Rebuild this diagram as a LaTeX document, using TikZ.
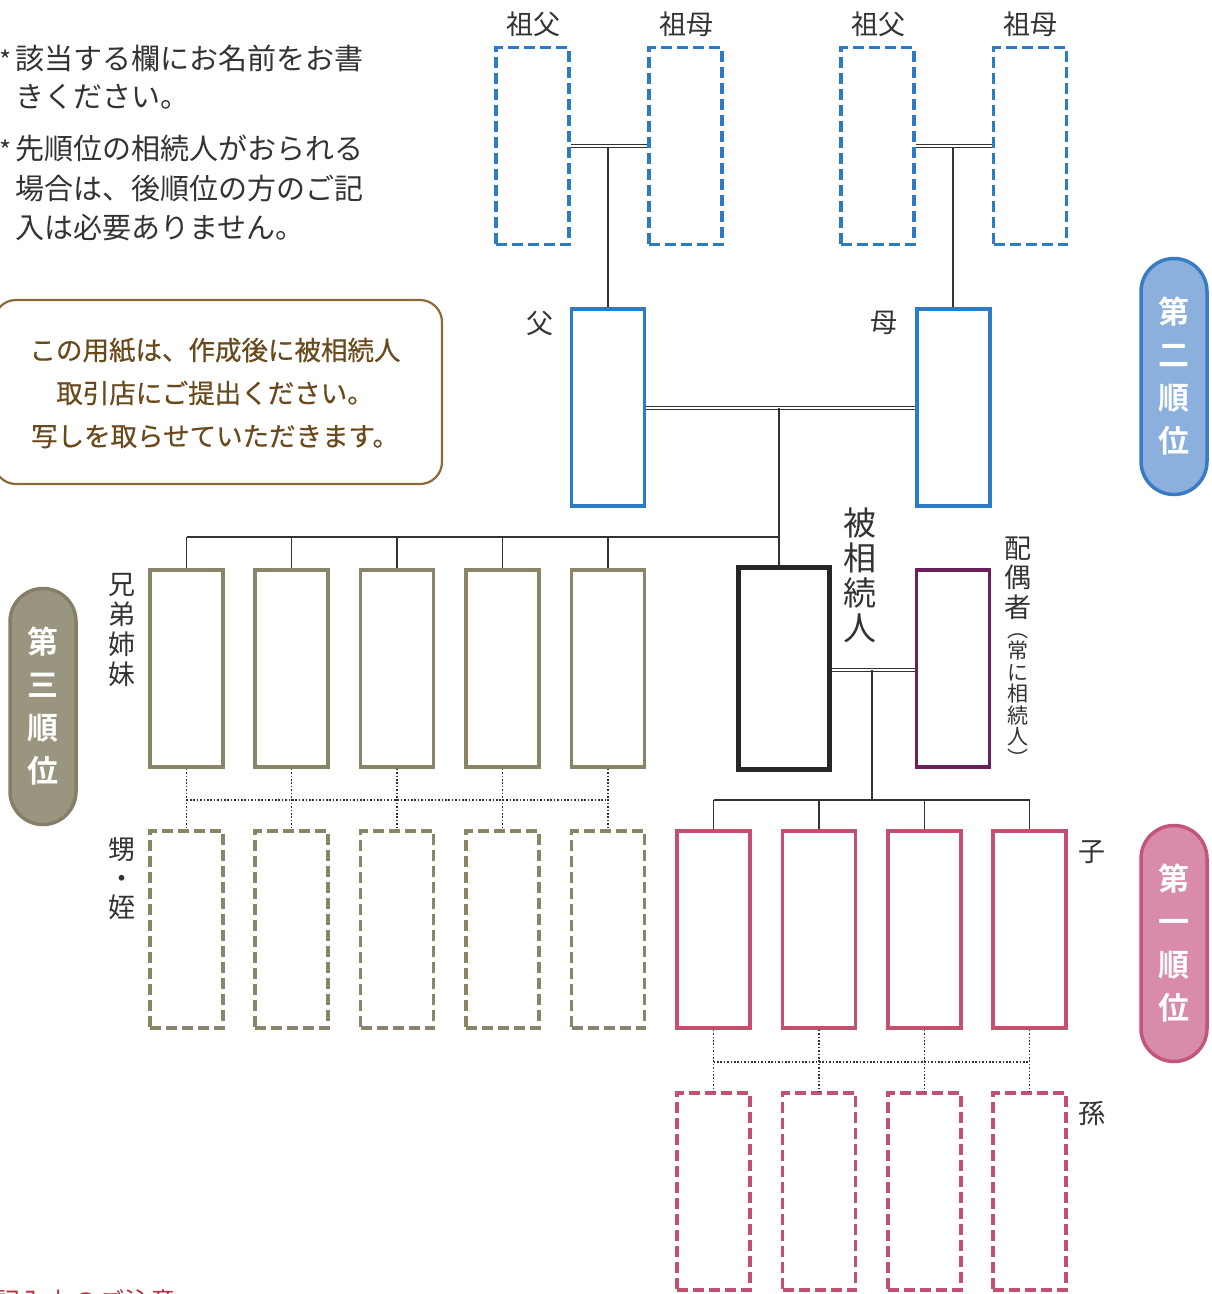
\documentclass[tikz,border=0pt]{standalone}
\usepackage{fontspec}
\setmainfont{Noto Sans CJK JP}
\newfontfamily\jpb{Noto Sans CJK JP}[BoldFont={* Bold}]
\newfontfamily\jpmed{Noto Sans CJK JP}[BoldFont={Noto Sans CJK JP}, BoldFeatures={FakeBold=0.5}]
\definecolor{cblue}{HTML}{2C7BC6}
\definecolor{colive}{HTML}{8A8468}
\definecolor{cpink}{HTML}{C2506F}
\definecolor{cpurple}{HTML}{6A1E5C}
\definecolor{cdark}{HTML}{262626}
\definecolor{ctext}{HTML}{333333}
\definecolor{cbrown}{HTML}{8A6A38}
\definecolor{cbrowntext}{HTML}{6A4A1C}
\definecolor{pillblue}{HTML}{8CB0DE}
\definecolor{pillblueb}{HTML}{3A7CC3}
\definecolor{pillolive}{HTML}{9A957F}
\definecolor{pilloliveb}{HTML}{857F67}
\definecolor{pillpink}{HTML}{D98CA9}
\definecolor{pillpinkb}{HTML}{C2557C}
\definecolor{cred}{HTML}{B8323F}
\newcommand{\fsz}[2]{\fontsize{#1}{#2}\selectfont}
\tikzset{
  pbox/.style={draw, line width=#1, minimum width=73, minimum height=197, inner sep=0, fill=white},
  pbox/.default=3.6,
  dbox/.style={draw, line width=3.2, dash pattern=on 11 off 5, minimum width=73, minimum height=197, inner sep=0},
  dbl/.style={draw=ctext, double=white, double distance=2.6, line width=1},
  conn/.style={draw=ctext, line width=1.3},
  dotc/.style={draw=ctext, line width=1.5, dash pattern=on 1.6 off 1.8},
  lbl/.style={text=ctext, inner sep=0, align=center},
  pill/.style={rounded corners=33, minimum width=66, minimum height=236, line width=3.5, inner sep=0, text=white, align=center, font=\jpb\bfseries\fsz{31}{43}},
}
\begin{document}
\begin{tikzpicture}[x=1pt,y=-1pt]
\useasboundingbox (0,0) rectangle (1211,1294);
\fill[white] (0,0) rectangle (1211,1294);

% notes
\node[lbl, anchor=center, font=\fsz{26}{26}] (ast1) at (6,60) {*};
\node[lbl, anchor=west, font=\fsz{29}{29}] (n1) at (15,58) {該当する欄にお名前をお書};
\node[lbl, anchor=west, font=\fsz{29}{29}] (n2) at (15,97) {きください。};
\node[lbl, anchor=center, font=\fsz{26}{26}] (ast2) at (6,150) {*};
\node[lbl, anchor=west, font=\fsz{29}{29}] (n3) at (15,148) {先順位の相続人がおられる};
\node[lbl, anchor=west, font=\fsz{29}{29}] (n4) at (15,188) {場合は、後順位の方のご記};
\node[lbl, anchor=west, font=\fsz{29}{29}] (n5) at (15,228) {入は必要ありません。};

% brown note box
\node[draw=cbrown, line width=2.2, rounded corners=22, fill=white, minimum width=448, minimum height=184, inner sep=0] (notebox) at (218,392) {};
\node[text=cbrowntext, font=\jpmed\bfseries\fsz{26.5}{43}, align=center, inner sep=0] (notetext) at (215,393) {この用紙は、作成後に被相続人\\取引店にご提出ください。\\写しを取らせていただきます。};

% grandparents
\node[dbox, draw=cblue] (gf1) at (532.5,146) {};
\node[dbox, draw=cblue] (gm1) at (685.5,146) {};
\node[dbox, draw=cblue] (gf2) at (877.5,146) {};
\node[dbox, draw=cblue] (gm2) at (1030,146) {};
\node[lbl, font=\fsz{27}{27}] (lgf1) at (533,24) {祖父};
\node[lbl, font=\fsz{27}{27}] (lgm1) at (686,24) {祖母};
\node[lbl, font=\fsz{27}{27}] (lgf2) at (878,24) {祖父};
\node[lbl, font=\fsz{27}{27}] (lgm2) at (1030,24) {祖母};

% parents
\node[pbox, draw=cblue] (fa) at (608,407.5) {};
\node[pbox, draw=cblue] (mo) at (953.5,407.5) {};
\node[lbl, font=\fsz{27}{27}] (lfa) at (540,323) {父};
\node[lbl, font=\fsz{27}{27}] (lmo) at (884,323) {母};

\coordinate (g1m) at (608,147);
\coordinate (g2m) at (953,147);
\draw[dbl] (gf1.east) -- (gm1.west);
\draw[dbl] (gf2.east) -- (gm2.west);
\draw[conn] (g1m) -- (g1m |- fa.north);
\draw[conn] (g2m) -- (g2m |- mo.north);

% deceased and spouse
\node[pbox=5, draw=cdark, minimum width=91, minimum height=202] (dec) at (783.5,668) {};
\node[pbox, draw=cpurple] (sp) at (953,668.5) {};
\node[lbl, font=\fsz{33}{35}] (ldec) at (860,575) {被\\相\\続\\人};
\node[lbl, font=\fsz{27}{29.5}] (lsp) at (1018,578) {配\\偶\\者};
\node[lbl, font=\fsz{21}{21.5}] (lsp2) at (1018,700) {︵\\常\\に\\相\\続\\人\\︶};

\coordinate (pm) at (779,408);
\draw[dbl] (fa.east |- pm) -- (mo.west |- pm);
\coordinate (sibbar) at (779,537);
\draw[conn] (pm) -- (pm |- dec.north);

% siblings
\foreach \i/\x in {1/186.5,2/291.5,3/397,4/502.5,5/608}{
  \node[pbox, draw=colive] (sib\i) at (\x,668.5) {};
  \node[dbox, draw=colive] (nep\i) at (\x,929.5) {};
}
\draw[conn] (sib1.north |- sibbar) -- (sibbar);
\foreach \i in {1,...,5}{
  \draw[conn] (sib\i.north |- sibbar) -- (sib\i.north);
}
\coordinate (nepbar) at (186.5,800);
\foreach \i in {1,...,5}{
  \draw[dotc] (sib\i.south) -- (nep\i.north);
}
\draw[dotc] (sib1.south |- nepbar) -- (sib5.south |- nepbar);
\node[lbl, font=\fsz{27}{30}] (lsib) at (122,630) {兄\\弟\\姉\\妹};
\node[lbl, font=\fsz{27}{29}] (lnep) at (122,879) {甥\\・\\姪};

% children
\coordinate (spm) at (872,670);
\draw[dbl] (dec.east |- spm) -- (sp.west |- spm);
\coordinate (chbar) at (872,800);
\draw[conn] (spm) -- (chbar);
\foreach \i/\x in {1/713.5,2/819,3/924.5,4/1029.5}{
  \node[pbox, draw=cpink] (ch\i) at (\x,929.5) {};
  \node[dbox, draw=cpink] (gc\i) at (\x,1191.5) {};
}
\draw[conn] (ch1.north |- chbar) -- (ch4.north |- chbar);
\foreach \i in {1,...,4}{
  \draw[conn] (ch\i.north |- chbar) -- (ch\i.north);
  \draw[dotc] (ch\i.south) -- (gc\i.north);
}
\coordinate (gcbar) at (713.5,1062);
\draw[dotc] (ch1.south |- gcbar) -- (ch4.south |- gcbar);
\node[lbl, font=\fsz{27}{27}] (lch) at (1092,852) {子};
\node[lbl, font=\fsz{27}{27}] (lgc) at (1092,1113) {孫};

% pills
\node[pill, draw=pillblueb, fill=pillblue] (p2) at (1174,376.5) {第\\二\\順\\位};
\node[pill, draw=pilloliveb, fill=pillolive] (p3) at (43,706.5) {第\\三\\順\\位};
\node[pill, draw=pillpinkb, fill=pillpink] (p1) at (1174,943.5) {第\\一\\順\\位};

% cut footer text
\node[anchor=west, text=cred, font=\fsz{26}{26}, inner sep=0] (foot) at (-6,1302) {記入上のご注意};
\end{tikzpicture}
\end{document}
